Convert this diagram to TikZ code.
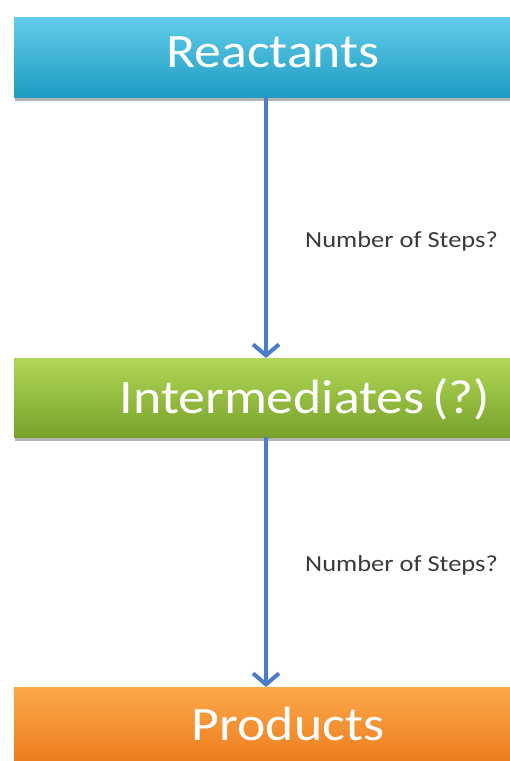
\documentclass[tikz,border=0pt]{standalone}
\usepackage{fontspec}
\setmainfont{Carlito}
\newfontfamily\boxfont[FakeStretch=1.12]{Carlito}
\newfontfamily\labfont[FakeStretch=1.15]{Carlito}
\usetikzlibrary{arrows.meta,shadows,positioning}
\definecolor{rtop}{HTML}{62CDEA}
\definecolor{rbot}{HTML}{1E9BC2}
\definecolor{itop}{HTML}{B0D755}
\definecolor{ibot}{HTML}{78A12A}
\definecolor{ptop}{HTML}{FBA84A}
\definecolor{pbot}{HTML}{EC7A1C}
\definecolor{arrowblue}{HTML}{4A7CC8}
\definecolor{labgray}{HTML}{3A3A3A}
\tikzset{
  boxbase/.style={rectangle, inner sep=0pt, minimum width=506pt, anchor=north west,
     drop shadow={shadow xshift=1pt, shadow yshift=-4pt, opacity=0.6}},
  boxtext/.style={text=white, font=\boxfont\fontsize{48}{52}\selectfont, anchor=base},
  steplabel/.style={text=labgray, font=\labfont\fontsize{23}{26}\selectfont, anchor=base west, inner sep=0pt},
  flow/.style={draw=arrowblue, line width=4pt, -{Straight Barb[length=11pt,width=26pt,line width=4pt]}}
}
\begin{document}
\begin{tikzpicture}[x=1pt,y=1pt]
\useasboundingbox (0,0) rectangle (510,-761);
\fill[white] (0,0) rectangle (510,-761);
% boxes
\node[boxbase, minimum height=80pt, top color=rtop, bottom color=rbot] (react) at (14,-17) {};
\node[boxbase, minimum height=79pt, top color=itop, bottom color=ibot] (inter) at (14,-358) {};
\node[boxbase, minimum height=80pt, top color=ptop, bottom color=pbot] (prod) at (14,-687) {};
% texts
\node[boxtext] (reacttxt) at (273,-67) {Reactants};
\node[boxtext] (intertxt) at (305,-413) {Intermediates\,(?)};
\node[boxtext] (prodtxt) at (288,-740) {Products};
% arrows
\coordinate (a1s) at (266,-97);
\coordinate (a1e) at (266,-358);
\coordinate (a2s) at (266,-437);
\coordinate (a2e) at (266,-687);
\draw[flow] (a1s) -- (a1e);
\draw[flow] (a2s) -- (a2e);
% labels
\node[steplabel] (lab1) at (305,-247) {Number of Steps?};
\node[steplabel] (lab2) at (305,-571) {Number of Steps?};
\end{tikzpicture}
\end{document}
